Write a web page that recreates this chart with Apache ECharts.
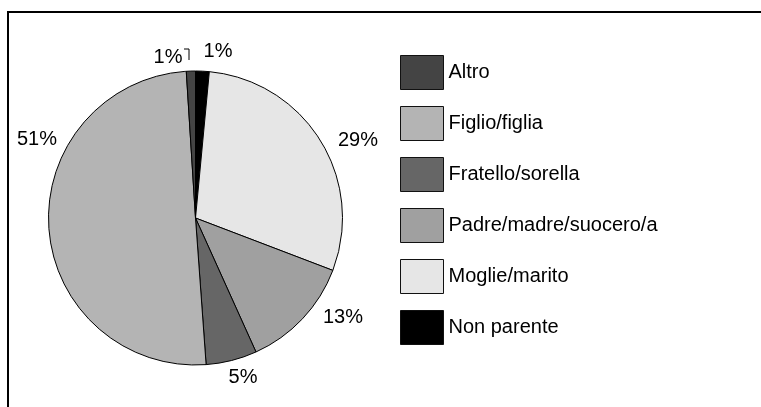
<!DOCTYPE html>
<html>
<head>
<meta charset="utf-8">
<script src="https://cdn.jsdelivr.net/npm/echarts@6/dist/echarts.min.js"></script>
<style>
html,body{margin:0;padding:0;background:#fff;}
#chart{width:761px;height:407px;}
</style>
</head>
<body>
<div id="chart"></div>
<script>
// Data (clockwise from 12 o'clock)
var categories = ['Non parente', 'Moglie/marito', 'Padre/madre/suocero/a', 'Fratello/sorella', 'Figlio/figlia', 'Altro'];
var values = [1.5, 29.3, 12.45, 5.6, 50.15, 1.0];
var printedLabels = ['1%', '29%', '13%', '5%', '51%', '1%'];
var legendOrder = ['Altro', 'Figlio/figlia', 'Fratello/sorella', 'Padre/madre/suocero/a', 'Moglie/marito', 'Non parente'];

// Styles / positions (separate from data)
var colors = ['#000000', '#e6e6e6', '#a0a0a0', '#666666', '#b4b4b4', '#444444'];
var labelPos = [[218, 51], [358, 140], [343, 317], [243, 377], [37, 139], [168, 57]];
var FONT = "'Liberation Sans', Arial, sans-serif";

var chart = echarts.init(document.getElementById('chart'), null, {renderer: 'canvas'});

var seriesData = categories.map(function (c, i) {
  var item = {name: c, value: values[i], itemStyle: {color: colors[i]}};
  item.labelLine = {show: i === 5, lineStyle: {color: '#000', width: 1}};
  return item;
});

chart.setOption({
  animation: false,
  backgroundColor: '#ffffff',
  graphic: [{
    type: 'rect',
    shape: {x: 8, y: 12, width: 900, height: 600},
    style: {fill: 'none', stroke: '#000', lineWidth: 2},
    silent: true
  }],
  legend: {
    orient: 'vertical',
    left: 395,
    top: 50,
    itemWidth: 43,
    itemHeight: 34,
    itemGap: 16,
    icon: 'rect',
    data: legendOrder,
    textStyle: {fontFamily: FONT, fontSize: 20, color: '#000', padding: [0, 0, 0, 0]},
    itemStyle: {borderColor: '#111', borderWidth: 1}
  },
  series: [{
    type: 'pie',
    center: [195.5, 218],
    radius: 147,
    startAngle: 90,
    clockwise: true,
    avoidLabelOverlap: false,
    itemStyle: {borderColor: '#000', borderWidth: 1},
    label: {
      show: true,
      position: 'outside',
      fontFamily: FONT,
      fontSize: 20,
      color: '#000',
      formatter: function (p) { return printedLabels[p.dataIndex]; }
    },
    labelLine: {show: false, lineStyle: {color: '#000', width: 1}},
    labelLayout: function (params) {
      var i = params.dataIndex;
      var out = {x: labelPos[i][0], y: labelPos[i][1], align: 'center', verticalAlign: 'middle'};
      if (i === 5) {
        out.labelLinePoints = [[184, 49], [189, 49], [189, 60]];
      }
      return out;
    },
    emphasis: {disabled: true},
    data: seriesData
  }]
});
</script>
</body>
</html>
